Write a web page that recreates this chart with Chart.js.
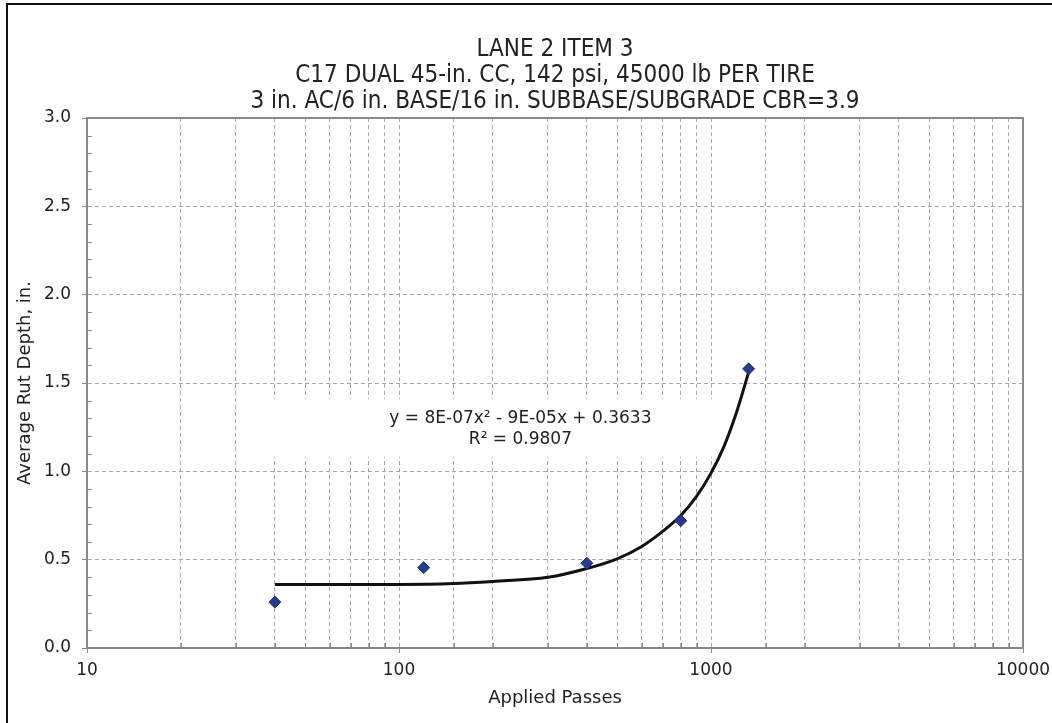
<!DOCTYPE html>
<html>
<head>
<meta charset="utf-8">
<script src="https://cdn.jsdelivr.net/npm/chart.js@4.4.1/dist/chart.umd.min.js"></script>
<style>
  html, body { margin: 0; padding: 0; background: #fff; overflow: hidden; }
  #wrap { position: relative; width: 1052px; height: 723px; }
  #frame { position: absolute; left: 6px; top: 3px; width: 1100px; height: 800px;
           border-left: 2px solid #111; border-top: 2px solid #111; }
  canvas { position: absolute; left: 0; top: 0; }
</style>
</head>
<body>
<div id="wrap">
  <div id="frame"></div>
  <canvas id="chart" width="1052" height="723"></canvas>
</div>
<script>
// measured rut depth
const passes = [40, 120, 400, 800, 1320];
const rutDepth = [0.26, 0.455, 0.48, 0.72, 1.58];

// polynomial trendline
const trendPasses = [40, 70, 100, 150, 200, 300, 400, 500, 600, 700, 800, 900, 1000, 1100, 1200, 1320];
const trendDepth = [0.36, 0.36, 0.36, 0.365, 0.377, 0.40, 0.45, 0.505, 0.575, 0.66, 0.75, 0.86, 0.99, 1.14, 1.32, 1.56];

const xTickLabels = [10, 100, 1000, 10000];
const yTickLabels = [0, 0.5, 1.0, 1.5, 2.0, 2.5, 3.0];

const titleLines = [
  'LANE 2 ITEM 3',
  'C17 DUAL 45-in. CC, 142 psi, 45000 lb PER TIRE',
  '3 in. AC/6 in. BASE/16 in. SUBBASE/SUBGRADE CBR=3.9',
];
const equationLines = ['y = 8E-07x\u00B2 - 9E-05x + 0.3633', 'R\u00B2 = 0.9807'];

const AXIS = '#8a8a8a';
const GRID = '#a8a8a8';
const TEXT = '#222';
const FONT = "'DejaVu Sans', sans-serif";

const isMajorX = (v) => xTickLabels.includes(v);
const isMajorY = (v) => yTickLabels.some((t) => Math.abs(t - v) < 1e-6);

const decorations = {
  id: 'decorations',
  beforeDatasetsDraw(chart) {
    const { ctx, scales: { x, y } } = chart;
    // trendline label with its white box
    const cx = x.getPixelForValue(245);
    const cy = y.getPixelForValue(1.24);
    ctx.save();
    ctx.fillStyle = '#fff';
    ctx.fillRect(cx - 250, cy - 30, 446, 58);
    ctx.fillStyle = TEXT;
    ctx.font = '17px ' + FONT;
    ctx.textAlign = 'center';
    ctx.textBaseline = 'middle';
    ctx.fillText(equationLines[0], cx, cy - 10);
    ctx.fillText(equationLines[1], cx, cy + 11);
    ctx.restore();
  },
  afterDraw(chart) {
    const { ctx, chartArea: a, scales: { x, y } } = chart;
    ctx.save();
    // top and right edge of the plot
    ctx.strokeStyle = AXIS;
    ctx.lineWidth = 2;
    ctx.beginPath();
    ctx.moveTo(a.left, a.top);
    ctx.lineTo(a.right, a.top);
    ctx.lineTo(a.right, a.bottom);
    ctx.stroke();

    // minor ticks point inward
    ctx.lineWidth = 1;
    for (let v = 0.1; v < 3; v += 0.1) {
      if (isMajorY(v)) continue;
      const py = Math.round(y.getPixelForValue(v)) + 0.5;
      ctx.beginPath();
      ctx.moveTo(a.left, py);
      ctx.lineTo(a.left + 5, py);
      ctx.stroke();
    }
    x.ticks.forEach((t) => {
      if (isMajorX(t.value)) return;
      const px = Math.round(x.getPixelForValue(t.value)) + 0.5;
      ctx.beginPath();
      ctx.moveTo(px, a.bottom);
      ctx.lineTo(px, a.bottom - 5);
      ctx.stroke();
    });

    // title
    ctx.fillStyle = TEXT;
    ctx.font = "24px 'Liberation Sans Narrow', 'DejaVu Sans Condensed', sans-serif";
    ctx.textAlign = 'center';
    ctx.textBaseline = 'middle';
    const mid = (a.left + a.right) / 2;
    titleLines.forEach((line, i) => ctx.fillText(line, mid, 50 + i * 26));
    ctx.restore();
  },
};

new Chart(document.getElementById('chart'), {
  type: 'scatter',
  data: {
    datasets: [
      {
        label: 'Rut depth',
        data: passes.map((p, i) => ({ x: p, y: rutDepth[i] })),
        pointStyle: 'rectRot',
        pointRadius: 6,
        pointHoverRadius: 6,
        backgroundColor: '#283c8c',
        borderColor: '#1e2f78',
        borderWidth: 1,
      },
      {
        label: 'Poly. trend',
        data: trendPasses.map((p, i) => ({ x: p, y: trendDepth[i] })),
        showLine: true,
        pointRadius: 0,
        borderColor: '#111',
        borderWidth: 3,
        cubicInterpolationMode: 'monotone',
      },
    ],
  },
  options: {
    responsive: false,
    animation: false,
    events: [],
    layout: { padding: { left: 7, top: 118, right: 29, bottom: 0 } },
    plugins: { legend: { display: false }, tooltip: { enabled: false }, title: { display: false } },
    scales: {
      x: {
        type: 'logarithmic',
        min: 10,
        max: 10000,
        afterFit: (s) => { s.height = 75; s.paddingLeft = 0; s.paddingRight = 0; },
        border: { color: AXIS, width: 2, dash: [4, 3] },
        grid: {
          color: GRID,
          lineWidth: 1,
          tickLength: 5,
          tickColor: (c) => (c.tick && isMajorX(c.tick.value) ? AXIS : 'rgba(0,0,0,0)'),
        },
        ticks: {
          autoSkip: false,
          maxRotation: 0,
          padding: 7,
          color: TEXT,
          font: { family: FONT, size: 17, lineHeight: 1.2 },
          callback: (v) => (isMajorX(v) ? String(v) : ''),
        },
        title: {
          display: true,
          text: 'Applied Passes',
          color: TEXT,
          font: { family: FONT, size: 18, lineHeight: 1.2 },
          padding: { top: 0, bottom: 14 },
        },
      },
      y: {
        min: 0,
        max: 3,
        afterFit: (s) => { s.width = 80; s.paddingTop = 0; s.paddingBottom = 0; },
        border: { color: AXIS, width: 2, dash: [4, 3] },
        grid: { color: GRID, lineWidth: 1, tickLength: 5, tickColor: AXIS },
        ticks: {
          stepSize: 0.5,
          padding: 11,
          color: TEXT,
          font: { family: FONT, size: 17, lineHeight: 1.2 },
          callback: (v) => v.toFixed(1),
        },
        title: {
          display: true,
          text: 'Average Rut Depth, in.',
          color: TEXT,
          font: { family: FONT, size: 18, lineHeight: 1.2 },
          padding: { top: 8, bottom: 0 },
        },
      },
    },
  },
  plugins: [decorations],
});
</script>
</body>
</html>
